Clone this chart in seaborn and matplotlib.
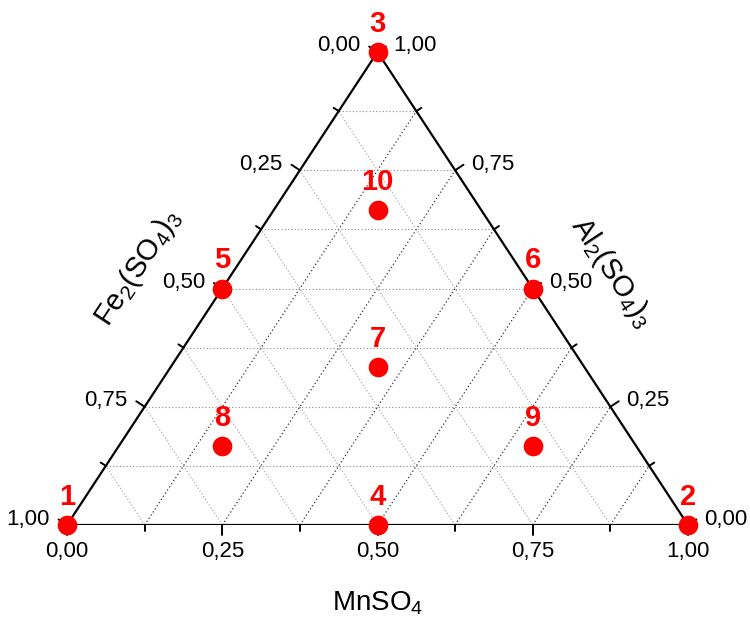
import numpy as np
import pandas as pd
import matplotlib
matplotlib.use("Agg")
import matplotlib.pyplot as plt
import seaborn as sns

sns.set_style("white")
plt.rcParams["font.family"] = ["Liberation Sans", "DejaVu Sans"]
plt.rcParams["mathtext.default"] = "regular"
plt.rcParams["text.color"] = "black"

# Compositions (mole fractions) of the ten mixtures
point_labels = ["1", "2", "3", "4", "5", "6", "7", "8", "9", "10"]
mn_frac = [0.0, 1.0, 0.0, 0.5, 0.0, 0.5, 1/3, 1/6, 2/3, 1/6]
al_frac = [0.0, 0.0, 1.0, 0.0, 0.5, 0.5, 1/3, 1/6, 1/6, 2/3]
fe_frac = [1 - m - a for m, a in zip(mn_frac, al_frac)]

tick_values = [0.0, 0.25, 0.5, 0.75, 1.0]
tick_text = ["0,00", "0,25", "0,50", "0,75", "1,00"]
grid_steps = [k / 8 for k in range(1, 8)]

# ternary -> cartesian (Al at the apex, MnSO4 to the right, Fe2(SO4)3 to the left)
df = pd.DataFrame({"label": point_labels, "Mn": mn_frac, "Al": al_frac, "Fe": fe_frac})
df["x"] = df["Mn"] + df["Al"] / 2
df["y"] = df["Al"]

W, H, DPI = 750, 622, 100
fig = plt.figure(figsize=(W / DPI, H / DPI), dpi=DPI)
left_px, right_px, base_px, apex_px = 67, 688, 525, 52
sx = right_px - left_px
sy = base_px - apex_px
ax = fig.add_axes([left_px / W, (H - base_px) / H, sx / W, sy / H])
ax.set_xlim(0, 1)
ax.set_ylim(0, 1)
ax.axis("off")


def px(dx, dy):
    """Pixel offset -> data offset."""
    return dx / sx, dy / sy


# grid
for f in grid_steps:
    # constant Al (horizontal)
    ax.plot([f / 2, 1 - f / 2], [f, f], ls=(0, (1, 2)), lw=0.8, color="#8a8a8a", zorder=1)
    # constant Mn (parallel to left edge)
    ax.plot([f, f + (1 - f) / 2], [0, 1 - f], ls=(0, (1, 2)), lw=0.9, color="#333333", zorder=1)
    # constant Fe (parallel to right edge)
    ax.plot([1 - f, (1 - f) / 2], [0, 1 - f], ls=(0, (1, 2)), lw=0.8, color="#9a9a9a", zorder=1)

# triangle frame
ax.plot([0, 1, 0.5, 0], [0, 0, 1, 0], color="black", lw=1.6, zorder=2, solid_joinstyle="miter")

# outward normals of the edges in pixel space
ln = np.array([-473.0, 311.0]); ln /= np.linalg.norm(ln)
rn = np.array([473.0, 311.0]); rn /= np.linalg.norm(rn)
bn = np.array([0.0, -1.0])

tick_kw = dict(color="black", lw=1.4, zorder=2, clip_on=False)
for k in range(9):
    f = k / 8
    L = 10 if k % 2 == 0 else 6
    # bottom axis: MnSO4
    p = np.array([f, 0.0])
    d = px(*(bn * L))
    ax.plot([p[0], p[0] + d[0]], [p[1], p[1] + d[1]], **tick_kw)
    # left axis: Fe2(SO4)3 (1 at bottom-left)
    p = np.array([(1 - f) / 2, 1 - f])
    d = px(*(ln * L))
    ax.plot([p[0], p[0] + d[0]], [p[1], p[1] + d[1]], **tick_kw)
    # right axis: Al2(SO4)3 (1 at apex)
    p = np.array([1 - f / 2, f])
    d = px(*(rn * L))
    ax.plot([p[0], p[0] + d[0]], [p[1], p[1] + d[1]], **tick_kw)

lab_fs = 16
for v, t in zip(tick_values, tick_text):
    # bottom
    dx, dy = px(0, -27)
    ax.text(v + dx, dy, t, ha="center", va="center", fontsize=lab_fs)
    # left (Fe fraction v)
    dx, dy = px(-17, 6)
    ax.text((1 - v) / 2 + dx, 1 - v + dy, t, ha="right", va="center", fontsize=lab_fs)
    # right (Al fraction v)
    dx, dy = px(16, 6)
    ax.text(1 - v / 2 + dx, v + dy, t, ha="left", va="center", fontsize=lab_fs)

# axis titles
ax.text(0.5, -(603 - base_px) / sy, "MnSO$_4$", ha="center", va="center", fontsize=20)
ang = np.degrees(np.arctan2(473, 311))
ax.text((138 - left_px) / sx, (base_px - 268) / sy, "Fe$_2$(SO$_4$)$_3$",
        rotation=ang, ha="center", va="center", fontsize=21, rotation_mode="anchor")
ax.text((612 - left_px) / sx, (base_px - 272) / sy, "Al$_2$(SO$_4$)$_3$",
        rotation=-ang, ha="center", va="center", fontsize=21, rotation_mode="anchor")

# data points
sns.scatterplot(data=df, x="x", y="y", color="red", s=200, linewidth=0,
                legend=False, ax=ax, zorder=5, clip_on=False)
for _, r in df.iterrows():
    dx, dy = px(0, 28)
    ax.text(r["x"] + dx, r["y"] + dy, r["label"], color="red", fontsize=21,
            fontweight="bold", ha="center", va="center", zorder=6)

fig.savefig("out.png", dpi=DPI)
